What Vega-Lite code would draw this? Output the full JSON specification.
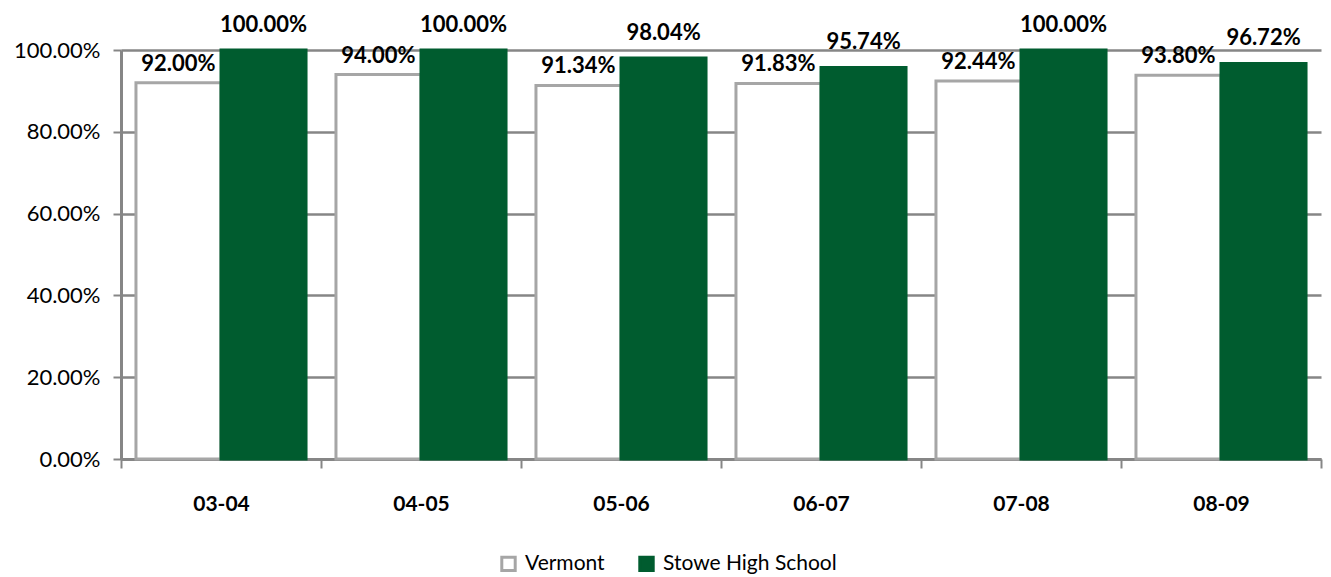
{
  "$schema": "https://vega.github.io/schema/vega-lite/v6.json",
  "width": 1200,
  "height": 409,
  "autosize": {"type": "none"},
  "padding": {"left": 121, "top": 50, "right": 10, "bottom": 118},
  "background": "white",
  "config": {
    "view": {"stroke": null},
    "font": "Lato"
  },
  "data": {
    "values": [
      {"year": "03-04", "series": "Vermont", "value": 0.92},
      {"year": "03-04", "series": "Stowe High School", "value": 1.0},
      {"year": "04-05", "series": "Vermont", "value": 0.94},
      {"year": "04-05", "series": "Stowe High School", "value": 1.0},
      {"year": "05-06", "series": "Vermont", "value": 0.9134},
      {"year": "05-06", "series": "Stowe High School", "value": 0.9804},
      {"year": "06-07", "series": "Vermont", "value": 0.9183},
      {"year": "06-07", "series": "Stowe High School", "value": 0.9574},
      {"year": "07-08", "series": "Vermont", "value": 0.9244},
      {"year": "07-08", "series": "Stowe High School", "value": 1.0},
      {"year": "08-09", "series": "Vermont", "value": 0.938},
      {"year": "08-09", "series": "Stowe High School", "value": 0.9672}
    ]
  },
  "encoding": {
    "x": {
      "field": "year", "type": "nominal", "sort": null, "title": null,
      "scale": {"paddingInner": 0, "paddingOuter": 0},
      "axis": {
        "labelAngle": 0, "labelFont": "Lato", "labelFontSize": 21, "labelFontWeight": "bold",
        "labelColor": "black", "labelPadding": 25, "tickBand": "extent", "tickSize": 9,
        "tickColor": "#868686", "tickWidth": 2, "domainColor": "#868686", "domainWidth": 3,
        "grid": false
      }
    },
    "xOffset": {
      "field": "series", "type": "nominal",
      "sort": ["Vermont", "Stowe High School"],
      "scale": {"paddingInner": 0, "paddingOuter": 0.176}
    },
    "y": {
      "field": "value", "type": "quantitative", "title": null,
      "scale": {"domain": [0, 1], "nice": false},
      "axis": {
        "format": ".2%", "values": [0, 0.2, 0.4, 0.6, 0.8, 1.0],
        "labelFont": "Lato", "labelFontSize": 22, "labelColor": "black",
        "tickSize": 8, "tickColor": "#868686", "tickWidth": 2, "labelPadding": 13,
        "domainColor": "#868686", "domainWidth": 3,
        "grid": true, "gridColor": "#868686", "gridWidth": 2.5
      }
    }
  },
  "layer": [
    {
      "mark": {"type": "bar", "strokeWidth": 3},
      "encoding": {
        "color": {
          "field": "series", "type": "nominal",
          "scale": {"domain": ["Vermont", "Stowe High School"], "range": ["white", "#005C2F"]},
          "legend": {
            "title": null, "orient": "none", "direction": "horizontal",
            "legendX": 377, "legendY": 503, "symbolType": "square", "symbolSize": 180,
            "symbolStrokeWidth": 3, "labelFont": "Lato", "labelFontSize": 21,
            "labelColor": "black", "columnPadding": 28, "labelOffset": 6, "labelLimit": 400
          }
        },
        "stroke": {
          "field": "series", "type": "nominal",
          "scale": {"domain": ["Vermont", "Stowe High School"], "range": ["#A6A6A6", "#005C2F"]},
          "legend": null
        }
      }
    },
    {
      "transform": [{"filter": "datum.series === 'Vermont'"}],
      "mark": {"type": "text", "baseline": "middle", "dy": -19, "font": "Lato", "fontSize": 22, "fontWeight": "bold", "color": "black"},
      "encoding": {
        "text": {"field": "value", "type": "quantitative", "format": ".2%"}
      }
    },
    {
      "transform": [{"filter": "datum.series !== 'Vermont'"}],
      "mark": {"type": "text", "baseline": "middle", "dy": -25, "font": "Lato", "fontSize": 22, "fontWeight": "bold", "color": "black"},
      "encoding": {
        "text": {"field": "value", "type": "quantitative", "format": ".2%"}
      }
    }
  ]
}
